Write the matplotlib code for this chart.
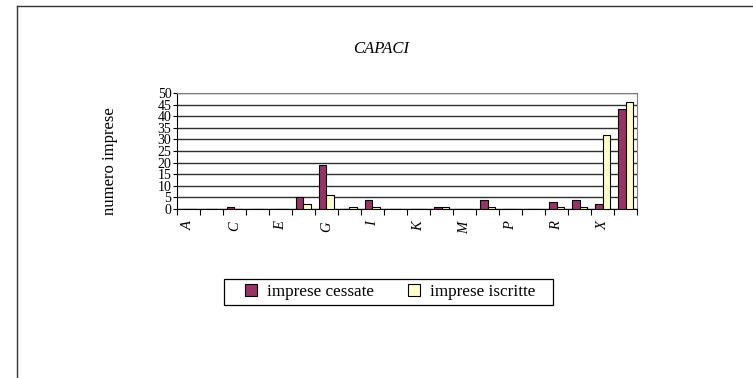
import matplotlib.pyplot as plt
import numpy as np
from matplotlib.lines import Line2D
from matplotlib.patches import Patch, Rectangle

plt.rcParams['font.family'] = ['Liberation Serif', 'DejaVu Serif']

# settori (ATECO), one label shown every two
categories = ["A", "B", "C", "D", "E", "F", "G", "H", "I", "J",
              "K", "L", "M", "N", "P", "Q", "R", "S", "X", "NC"]
cessate = [0, 0, 1, 0, 0, 5, 19, 0, 4, 0, 0, 1, 0, 4, 0, 0, 3, 4, 2, 43]
iscritte = [0, 0, 0, 0, 0, 2, 6, 1, 1, 0, 0, 1, 0, 1, 0, 0, 1, 1, 32, 46]
series_names = ["imprese cessate", "imprese iscritte"]
colors = ["#993366", "#FFFFCC"]

fig = plt.figure(figsize=(7.53, 3.78), dpi=100)
ax = fig.add_axes([0.235, 0.447, 0.611, 0.307])

x = np.arange(len(categories))
w = 0.31
ax.bar(x - w / 2, cessate, w, color=colors[0], edgecolor="black", linewidth=0.8, zorder=3)
ax.bar(x + w / 2, iscritte, w, color=colors[1], edgecolor="black", linewidth=0.8, zorder=3)

ax.set_xlim(-0.5, len(categories) - 0.5)
ax.set_ylim(0, 50)
ax.set_yticks(np.arange(0, 51, 5))
ax.yaxis.grid(True, color="#303030", linewidth=1.0, zorder=0)
ax.tick_params(axis="y", length=3, labelsize=10, pad=1)

# separators between categories as major ticks, labels on minor ticks
ax.set_xticks(np.arange(-0.5, len(categories), 1))
ax.set_xticklabels([])
ax.tick_params(axis="x", which="major", length=4)
ax.set_xticks(x, minor=True)
ax.set_xticklabels([c if i % 2 == 0 else "" for i, c in enumerate(categories)],
                   minor=True, rotation=90, style="italic", fontsize=10.5)
ax.tick_params(axis="x", which="minor", length=0, pad=9)

for s in ["top", "right"]:
    ax.spines[s].set_color("#808080")
for s in ["left", "bottom"]:
    ax.spines[s].set_color("black")

fig.text(0.506, 0.870, "CAPACI", ha="center", va="center", fontsize=12, style="italic")
fig.text(0.146, 0.574, "numero imprese", ha="center", va="center", rotation=90, fontsize=12)

handles = [Patch(facecolor=colors[i], edgecolor="black", linewidth=0.8) for i in range(2)]
fig.legend(handles, series_names, loc="center", bbox_to_anchor=(0.518, 0.228), ncol=2,
           frameon=False, fontsize=12.3, handlelength=0.7, handleheight=0.7,
           handletextpad=0.6, columnspacing=2.0)
# legend box drawn by hand, wider than the entries
fig.add_artist(Rectangle((224 / 753, 1 - 305 / 378), 329 / 753, 26 / 378,
                         transform=fig.transFigure, facecolor="none",
                         edgecolor="black", lw=0.9))

# outer frame of the chart object
fig.add_artist(Line2D([0.0226, 1.0], [0.984, 0.984], transform=fig.transFigure, color="#333333", lw=1))
fig.add_artist(Line2D([0.0226, 0.0226], [0.0, 0.984], transform=fig.transFigure, color="#333333", lw=1))

fig.savefig("out.png", dpi=100, facecolor="white")
